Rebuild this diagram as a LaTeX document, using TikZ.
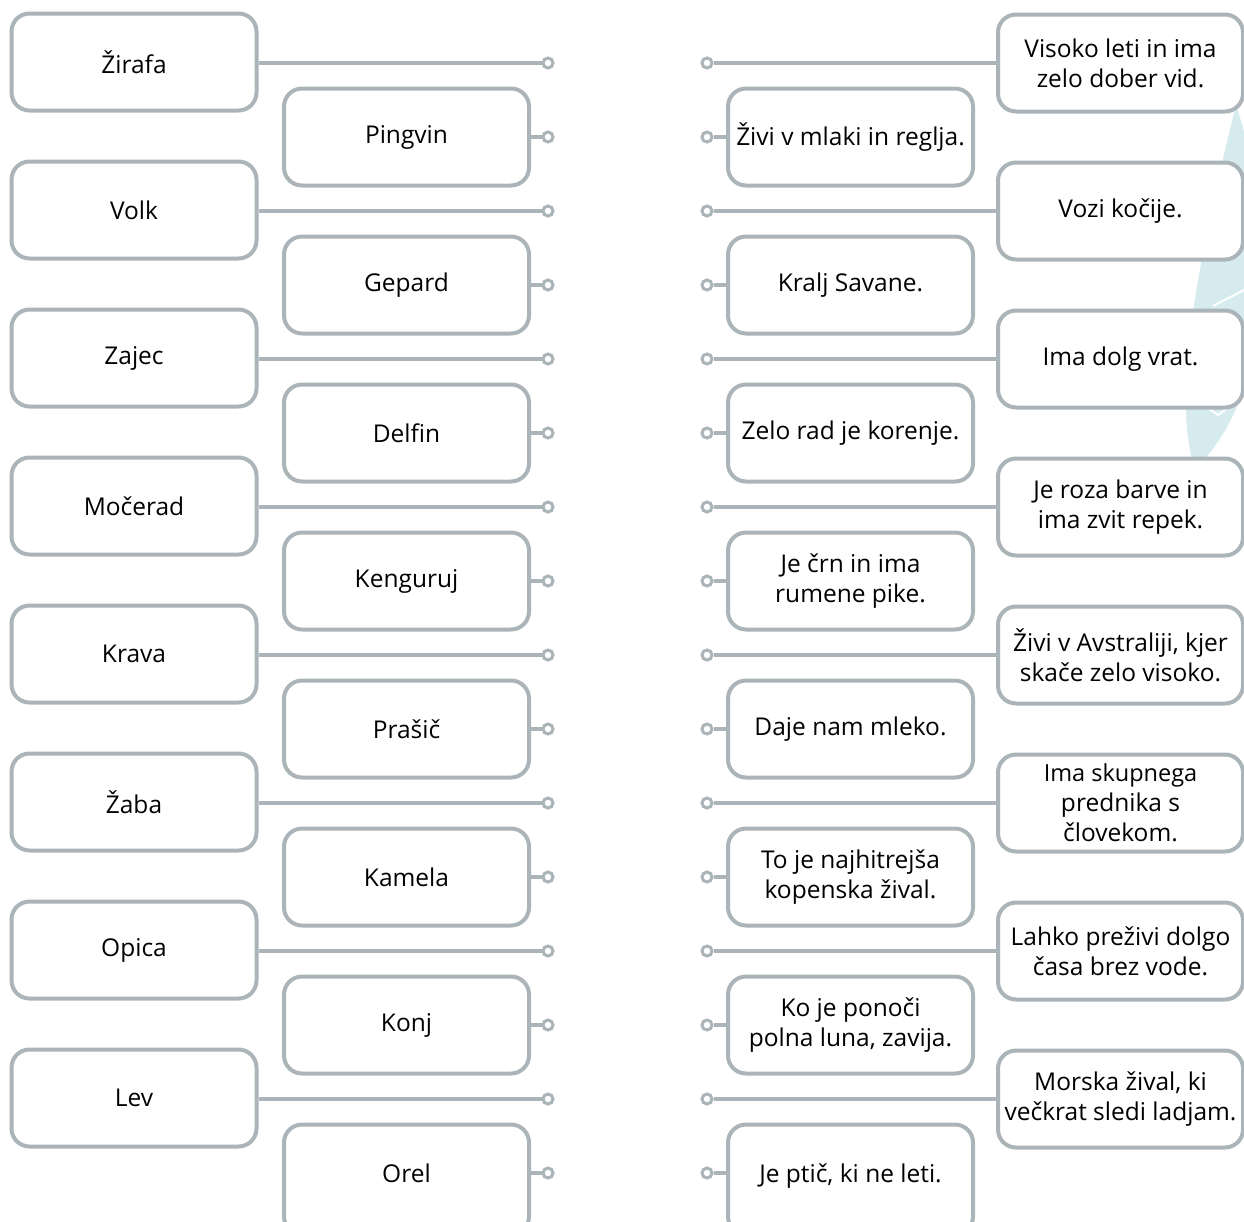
\documentclass[tikz,border=0pt]{standalone}
\usepackage{fontspec}
\setmainfont{Open Sans}
\definecolor{boxgray}{HTML}{ABB4B8}
\definecolor{leafblue}{HTML}{D5EBEE}
\begin{document}
\begin{tikzpicture}[x=1pt,y=-1pt,
  card/.style={draw=boxgray, line width=4pt, rounded corners=18pt, fill=white,
    minimum width=245pt, minimum height=97pt, inner sep=2pt, align=center,
    font=\fontsize{24.5}{30}\selectfont, text=black},
  lastcard/.style={minimum height=110pt, yshift=-6.5pt, text depth=13pt},
  pin/.style={circle, draw=boxgray, line width=3pt, fill=white, minimum size=10pt, inner sep=0pt},
  conn/.style={draw=boxgray, line width=3.5pt}]
\useasboundingbox (0,0) rectangle (1244,1221);
\begin{scope}
\clip (0,0) rectangle (1244,1221);
\fill[leafblue] (1236,105) .. controls (1200,250) and (1170,400) .. (1195,468)
   .. controls (1240,430) and (1300,300) .. (1236,105) -- cycle;
\draw[white, line width=2pt] (1213,306) -- (1244,290);
\draw[white, line width=2pt] (1208,408) -- (1218,415) -- (1230,406);
\end{scope}
% left column A
\foreach \i/\t in {0/Žirafa,1/Volk,2/Zajec,3/Močerad,4/Krava,5/Žaba,6/Opica,7/Lev}{
  \node[card] (a\i) at (134,62+148*\i) {\t};
  \node[pin] (pa\i) at (548,63+148*\i) {};
  \draw[conn] (a\i.east |- pa\i) -- (pa\i.west);
}
% left column B
\foreach \i/\t in {0/Pingvin,1/Gepard,2/Delfin,3/Kenguruj,4/Prašič,5/Kamela,6/Konj}{
  \node[card] (b\i) at (406.5,137+148*\i) {\t};
  \node[pin] (pb\i) at (548,137+148*\i) {};
  \draw[conn] (b\i.east) -- (pb\i.west);
}
\node[card, lastcard] (b7) at (406.5,1173) {Orel};
\node[pin] (pb7) at (548,1173) {};
\draw[conn] (b7.east |- pb7) -- (pb7.west);
% right column C
\foreach \i/\t in {0/{Živi v mlaki in reglja.},1/{Kralj Savane.},2/{Zelo rad je korenje.},
  3/{Je črn in ima\\rumene pike.},4/{Daje nam mleko.},5/{To je najhitrejša\\kopenska žival.},
  6/{Ko je ponoči\\polna luna, zavija.}}{
  \node[card] (c\i) at (850.5,137+148*\i) {\t};
  \node[pin] (pc\i) at (707,137+148*\i) {};
  \draw[conn] (pc\i.east) -- (c\i.west);
}
\node[card, lastcard] (c7) at (850.5,1173) {Je ptič, ki ne leti.};
\node[pin] (pc7) at (707,1173) {};
\draw[conn] (pc7.east) -- (c7.west |- pc7);
% right column D
\foreach \i/\t in {0/{Visoko leti in ima\\zelo dober vid.},1/{Vozi kočije.},2/{Ima dolg vrat.},
  3/{Je roza barve in\\ima zvit repek.},4/{Živi v Avstraliji, kjer\\skače zelo visoko.},
  5/{\fontsize{23.5}{28}\selectfont Ima skupnega\\prednika s\\človekom.},6/{Lahko preživi dolgo\\časa brez vode.},
  7/{Morska žival, ki\\večkrat sledi ladjam.}}{
  \node[card] (d\i) at (1120.5,63+148*\i) {\t};
  \node[pin] (pd\i) at (707,63+148*\i) {};
  \draw[conn] (pd\i.east) -- (d\i.west);
}
\end{tikzpicture}
\end{document}
